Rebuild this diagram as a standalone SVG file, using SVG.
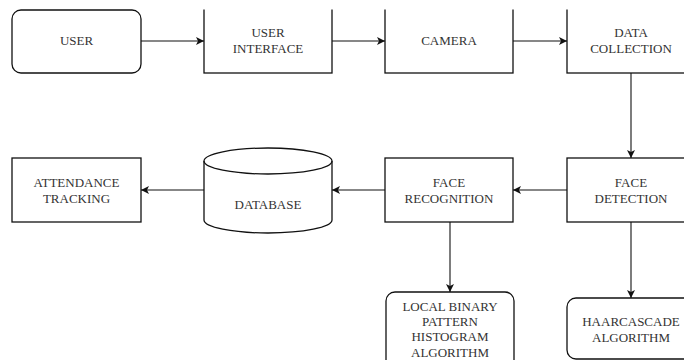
<svg xmlns="http://www.w3.org/2000/svg" width="684" height="360" viewBox="0 0 684 360">
<style>
.box{fill:#fff;stroke:#111;stroke-width:1.3}
.lbl{font-family:'Liberation Serif','DejaVu Serif',serif;font-size:13px;fill:#333;text-anchor:middle}
.edge{fill:none;stroke:#111;stroke-width:1.1}
</style>
<defs>
<marker id="arr" markerUnits="userSpaceOnUse" markerWidth="10" markerHeight="10" refX="8" refY="4" orient="auto" viewBox="0 0 10 10">
<path d="M0,0 L8,4 L0,8 L2,4 z" fill="#111"/>
</marker>
</defs>
<rect width="684" height="360" fill="#fff"/>
<g id="ui"><rect class="box" x="204" y="-20" width="128" height="93"/>
<text class="lbl" x="268" y="37">USER</text><text class="lbl" x="268" y="53">INTERFACE</text></g>
<g id="camera"><rect class="box" x="385" y="-20" width="128" height="93"/>
<text class="lbl" x="449" y="45">CAMERA</text></g>
<g id="datacollection"><rect class="box" x="567" y="-20" width="128" height="93"/>
<text class="lbl" x="631" y="37">DATA</text><text class="lbl" x="631" y="53">COLLECTION</text></g>
<rect x="0" y="0" width="684" height="9.5" fill="#fff"/>
<g id="user"><rect class="box" x="12" y="10" width="129" height="63" rx="9"/>
<text class="lbl" x="76.5" y="45">USER</text></g>
<g id="facedetection"><rect class="box" x="567" y="158" width="128" height="64"/>
<text class="lbl" x="631" y="187">FACE</text><text class="lbl" x="631" y="203">DETECTION</text></g>
<g id="facerecognition"><rect class="box" x="385" y="158" width="128" height="64"/>
<text class="lbl" x="449" y="187">FACE</text><text class="lbl" x="449" y="203">RECOGNITION</text></g>
<g id="database"><path class="box" d="M204,161 A64,13 0 0 1 332,161 L332,220 A64,13 0 0 1 204,220 Z"/>
<path class="box" style="fill:none" d="M204,161 A64,13 0 0 0 332,161"/>
<text class="lbl" x="268" y="209">DATABASE</text></g>
<g id="attendance"><rect class="box" x="12" y="158" width="129" height="64"/>
<text class="lbl" x="76.5" y="187">ATTENDANCE</text><text class="lbl" x="76.5" y="203">TRACKING</text></g>
<g id="lbph"><rect class="box" x="386" y="292" width="128" height="90" rx="9"/>
<text class="lbl" x="450" y="311">LOCAL BINARY</text><text class="lbl" x="450" y="326">PATTERN</text>
<text class="lbl" x="450" y="341">HISTOGRAM</text><text class="lbl" x="450" y="357">ALGORITHM</text></g>
<g id="haar"><rect class="box" x="567" y="298" width="128" height="61" rx="9"/>
<text class="lbl" x="631" y="326">HAARCASCADE</text><text class="lbl" x="631" y="342">ALGORITHM</text></g>
<g id="connectors">
<path class="edge" marker-end="url(#arr)" d="M141,41 L204,41"/>
<path class="edge" marker-end="url(#arr)" d="M332,41 L385,41"/>
<path class="edge" marker-end="url(#arr)" d="M513,41 L567,41"/>
<path class="edge" marker-end="url(#arr)" d="M631,73 L631,158"/>
<path class="edge" marker-end="url(#arr)" d="M567,190 L513,190"/>
<path class="edge" marker-end="url(#arr)" d="M385,190 L332,190"/>
<path class="edge" marker-end="url(#arr)" d="M204,190 L141,190"/>
<path class="edge" marker-end="url(#arr)" d="M450,222 L450,292"/>
<path class="edge" marker-end="url(#arr)" d="M631,222 L631,298"/>
</g>
</svg>
